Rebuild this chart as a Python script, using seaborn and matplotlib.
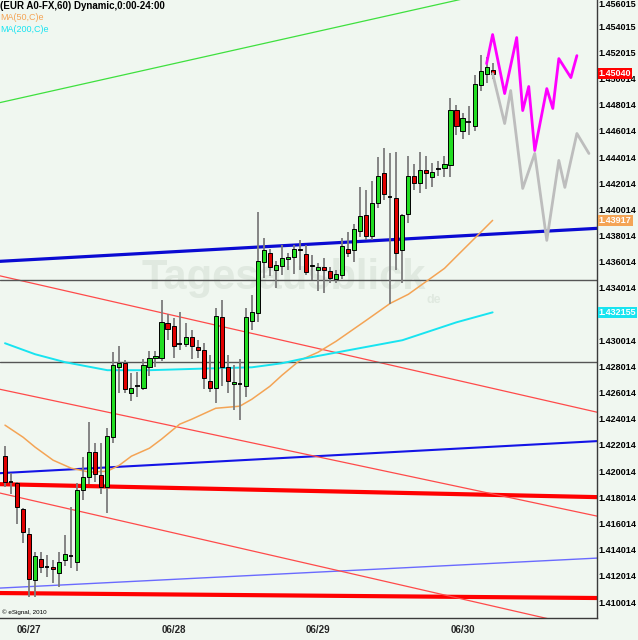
import numpy as np
import pandas as pd
import matplotlib
matplotlib.use("Agg")
import matplotlib.pyplot as plt
import matplotlib.transforms as mtransforms
import seaborn as sns

# EUR/USD hourly candles, bar 0 = Sunday evening 06/27
opens = [1.4212, 1.4192, 1.4191, 1.4171, 1.4152, 1.4117, 1.4133, 1.4127, 1.4127, 1.4122,
         1.4132, 1.4135, 1.4131, 1.4186, 1.4196, 1.4215, 1.4197, 1.4188, 1.4226, 1.4280,
         1.4283, 1.4260, 1.4265, 1.4264, 1.4280, 1.4287, 1.4287, 1.4313, 1.4311, 1.4297,
         1.4297, 1.4303, 1.4295, 1.4293, 1.4269, 1.4264, 1.4318, 1.4280, 1.4267, 1.4267,
         1.4265, 1.4315, 1.4321, 1.4360, 1.4367, 1.4354, 1.4357, 1.4362, 1.4364, 1.4370,
         1.4366, 1.4357, 1.4354, 1.4356, 1.4353, 1.4347, 1.4350, 1.4370, 1.4369, 1.4384,
         1.4396, 1.4380, 1.4405, 1.4428, 1.4410, 1.4409, 1.4369, 1.4397, 1.4426, 1.4420,
         1.4430, 1.4425, 1.4431, 1.4432, 1.4434, 1.4476, 1.4460, 1.4467, 1.4464, 1.4495,
         1.4504, 1.4507]
highs = [1.4219, 1.4199, 1.4192, 1.4172, 1.4157, 1.4138, 1.4138, 1.4136, 1.4132, 1.4138,
         1.4151, 1.4173, 1.4191, 1.4211, 1.4238, 1.4222, 1.4222, 1.4233, 1.4291, 1.4296,
         1.4285, 1.4275, 1.4276, 1.4286, 1.4292, 1.4292, 1.4331, 1.4320, 1.4317, 1.4322,
         1.4313, 1.4308, 1.4300, 1.4298, 1.4289, 1.4325, 1.4331, 1.4289, 1.4281, 1.4286,
         1.4325, 1.4335, 1.4398, 1.4378, 1.4370, 1.4361, 1.4373, 1.4367, 1.4373, 1.4377,
         1.4373, 1.4365, 1.4359, 1.4363, 1.4356, 1.4354, 1.4378, 1.4383, 1.4389, 1.4417,
         1.4415, 1.4422, 1.4440, 1.4447, 1.4443, 1.4444, 1.4397, 1.4441, 1.4435, 1.4444,
         1.4441, 1.4436, 1.4437, 1.4441, 1.4485, 1.4480, 1.4474, 1.4479, 1.4503, 1.4518,
         1.4517, 1.4512]
lows = [1.4188, 1.4183, 1.4160, 1.4145, 1.4104, 1.4104, 1.4122, 1.4119, 1.4115, 1.4112,
        1.4128, 1.4126, 1.4124, 1.4178, 1.4190, 1.4192, 1.4183, 1.4168, 1.4222, 1.4260,
        1.4260, 1.4254, 1.4257, 1.4262, 1.4273, 1.4280, 1.4284, 1.4300, 1.4287, 1.4293,
        1.4295, 1.4286, 1.4287, 1.4263, 1.4261, 1.4252, 1.4265, 1.4260, 1.4247, 1.4239,
        1.4257, 1.4308, 1.4314, 1.4348, 1.4349, 1.4340, 1.4350, 1.4354, 1.4351, 1.4354,
        1.4350, 1.4346, 1.4338, 1.4336, 1.4344, 1.4344, 1.4347, 1.4364, 1.4360, 1.4379,
        1.4377, 1.4377, 1.4401, 1.4407, 1.4328, 1.4354, 1.4344, 1.4390, 1.4415, 1.4413,
        1.4416, 1.4417, 1.4426, 1.4425, 1.4425, 1.4457, 1.4454, 1.4457, 1.4460, 1.4491,
        1.4497, 1.4500]
closes = [1.4192, 1.4192, 1.4173, 1.4154, 1.4118, 1.4135, 1.4127, 1.4127, 1.4125, 1.4131,
          1.4137, 1.4135, 1.4186, 1.4196, 1.4215, 1.4198, 1.4188, 1.4227, 1.4281, 1.4283,
          1.4263, 1.4264, 1.4265, 1.4281, 1.4287, 1.4288, 1.4314, 1.4309, 1.4296, 1.4297,
          1.4303, 1.4296, 1.4293, 1.4271, 1.4264, 1.4319, 1.4280, 1.4269, 1.4268, 1.4267,
          1.4318, 1.4322, 1.4361, 1.4369, 1.4356, 1.4358, 1.4363, 1.4364, 1.4370, 1.4369,
          1.4352, 1.4358, 1.4356, 1.4354, 1.4348, 1.4351, 1.4372, 1.4367, 1.4385, 1.4395,
          1.4380, 1.4405, 1.4426, 1.4412, 1.4410, 1.4367, 1.4396, 1.4426, 1.4420, 1.4430,
          1.4428, 1.4429, 1.4431, 1.4435, 1.4476, 1.4464, 1.4470, 1.4467, 1.4496, 1.4506,
          1.4509, 1.4504]

# moving averages (read at some bars)
ma50_x = [0, 3, 5, 8, 11, 14, 17, 19, 21, 24, 26, 29, 31, 35, 39, 41, 44, 46, 49, 52,
          55, 60, 64, 67, 70, 73, 75, 78, 81]
ma50_y = [1.42353, 1.42261, 1.42185, 1.42085, 1.42024, 1.41994, 1.42001, 1.42047, 1.42116,
          1.42177, 1.42246, 1.42360, 1.42398, 1.42482, 1.42498, 1.42551, 1.42650, 1.42734,
          1.42849, 1.42910, 1.42994, 1.43154, 1.43284, 1.43353, 1.43452, 1.43551, 1.43643,
          1.43780, 1.43918]
ma200_x = [0, 5, 10, 17, 24, 35, 41, 46, 49, 57, 66, 71, 75, 81]
ma200_y = [1.42979, 1.42895, 1.42834, 1.42773, 1.42773, 1.42788, 1.42795, 1.42826,
           1.42856, 1.42925, 1.43002, 1.43078, 1.43139, 1.43215]

# projected paths
proj_up_x = [80, 81, 83, 85, 86, 87, 88, 90, 91, 92, 94, 95]
proj_up_y = [1.45116, 1.45338, 1.44887, 1.45315, 1.44757, 1.44941, 1.44452, 1.44925,
             1.44773, 1.45154, 1.45009, 1.45177]
proj_dn_x = [81, 83, 84, 86, 88, 90, 92, 93, 95, 97]
proj_dn_y = [1.45040, 1.44658, 1.44910, 1.44162, 1.44429, 1.43765, 1.44376, 1.44170,
             1.44582, 1.44429]

# trend lines: price at left edge / right edge of the chart
edge_x = [-0.83, 98.34]
green_trend = [1.44818, 1.45840]
blue_thick = [1.43605, 1.43857]
blue_mid = [1.41986, 1.42231]
blue_thin = [1.41108, 1.41337]
red_thick_up = [1.41902, 1.41803]
red_thick_low = [1.41070, 1.41032]
red_thin_a = [1.43494, 1.42452]
red_thin_b = [1.42627, 1.41658]
red_thin_c = [1.41834, 1.40788]
flat_lines = [1.43460, 1.42834]

day_pos = [2, 26, 50, 74]
day_labels = ['06/27', '06/28', '06/29', '06/30']

# 1.432014 sits under the MA200 tag, so it is left out
ytick_vals = [1.410014, 1.412014, 1.414014, 1.416014, 1.418014, 1.420014, 1.422014,
              1.424014, 1.426014, 1.428014, 1.430014, 1.434014, 1.436014,
              1.438014, 1.440014, 1.442014, 1.444014, 1.446014, 1.448014, 1.450014,
              1.452015, 1.454015, 1.456015]
ytick_labels = ['1.410014', '1.412014', '1.414014', '1.416014', '1.418014', '1.420014',
                '1.422014', '1.424014', '1.426014', '1.428014', '1.430014',
                '1.434014', '1.436014', '1.438014', '1.440014', '1.442014', '1.444014',
                '1.446014', '1.448014', '1.450014', '1.452015', '1.454015', '1.456015']

last_tag = ('1.45040', 1.45040)
ma50_tag = ('1.43917', 1.43917)
ma200_tag = ('1.432155', 1.432155)

bg = '#f0f7f0'
sns.set_style("white")
plt.rcParams['font.family'] = ['Liberation Sans', 'DejaVu Sans']

fig = plt.figure(figsize=(6.38, 6.40), dpi=100, facecolor=bg)
ax = fig.add_axes([0, 22 / 640, 597 / 638, 618 / 640])
ax.set_facecolor(bg)

# watermark
ax.text(0.475, 0.55, 'Tagesausblick', transform=ax.transAxes, fontsize=30,
        fontweight='bold', color='#e0e9e0', ha='center', va='center', zorder=0)
ax.text(0.715, 0.515, 'de', transform=ax.transAxes, fontsize=9,
        fontweight='bold', color='#e0e9e0', ha='left', va='center', zorder=0)

# trend lines
ax.plot(edge_x, green_trend, color='#3ee03e', lw=0.9, zorder=2)
ax.plot(edge_x, blue_thick, color='#0a0ad2', lw=2.3, zorder=2)
ax.plot(edge_x, blue_mid, color='#1414e6', lw=1.5, zorder=2)
ax.plot(edge_x, blue_thin, color='#6a6aff', lw=1.0, zorder=2)
ax.plot(edge_x, red_thick_up, color='#ff0000', lw=3.0, zorder=2)
ax.plot(edge_x, red_thick_low, color='#ff0000', lw=3.0, zorder=2)
for p in [red_thin_a, red_thin_b, red_thin_c]:
    ax.plot(edge_x, p, color='#ff4a4a', lw=0.9, zorder=2)
for p in flat_lines:
    ax.axhline(p, color='#555555', lw=1.0, zorder=2)

# moving averages
sns.lineplot(x=ma50_x, y=ma50_y, ax=ax, color='#f4a455', lw=1.1, zorder=3, legend=False)
sns.lineplot(x=ma200_x, y=ma200_y, ax=ax, color='#18e4f0', lw=1.4, zorder=3, legend=False)

# candles
df = pd.DataFrame({'open': opens, 'high': highs, 'low': lows, 'close': closes})
df['bar'] = np.arange(len(df))
up = df[df.close > df.open]
dn = df[df.close < df.open]
flat = df[df.close == df.open]
ax.vlines(df.bar, df.low, df.high, color='#7c7c7c', lw=1.3, zorder=4)
ax.bar(up.bar, up.close - up.open, bottom=up.open, width=0.68, color='#22dd22',
       edgecolor='black', lw=0.7, zorder=5)
ax.bar(dn.bar, dn.open - dn.close, bottom=dn.close, width=0.68, color='#e00000',
       edgecolor='black', lw=0.7, zorder=5)
ax.hlines(flat.close, flat.bar - 0.35, flat.bar + 0.35, color='black', lw=1.3, zorder=5)

# projections
sns.lineplot(x=proj_dn_x, y=proj_dn_y, ax=ax, color='#bdbdbd', lw=2.0, zorder=6,
             legend=False, sort=False)
sns.lineplot(x=proj_up_x, y=proj_up_y, ax=ax, color='#ff00ff', lw=2.0, zorder=7,
             legend=False, sort=False)

ax.set_xlim(edge_x[0], edge_x[1])
ax.set_ylim(1.408793, 1.45602)

for s in ['left', 'top']:
    ax.spines[s].set_visible(False)
for s in ['right', 'bottom']:
    ax.spines[s].set_color('#3a3a3a')
    ax.spines[s].set_linewidth(1.0)

ax.yaxis.tick_right()
ax.set_yticks(ytick_vals)
ax.set_yticklabels(ytick_labels, fontsize=6.5, fontweight='bold')
ax.tick_params(axis='y', length=0, pad=1.0, labelcolor='black')
ylabs = ax.get_yticklabels()
ylabs[-1].set_verticalalignment('top')

ax.set_xticks(day_pos)
ax.set_xticklabels(day_labels, fontsize=7, fontweight='bold', ha='left')
ax.tick_params(axis='x', length=3, pad=2, color='#3a3a3a')

# price tags on the scale
trans = mtransforms.blended_transform_factory(ax.transAxes, ax.transData)
for (txt, val), fc in [(last_tag, '#ff0000'), (ma50_tag, '#f4a455'), (ma200_tag, '#18e4f0')]:
    ax.text(1.003, val, txt, transform=trans, color='white', fontsize=6.5,
            fontweight='bold', ha='left', va='center', clip_on=False, zorder=10,
            bbox=dict(boxstyle='square,pad=0.12', fc=fc, ec='none'))

# header
ax.text(0.0, 0.991, '(EUR A0-FX,60) Dynamic,0:00-24:00', transform=ax.transAxes,
        fontsize=7, fontweight='bold', color='black', ha='left', va='center', zorder=10)
ax.text(0.0, 0.972, 'MA(50,C)e', transform=ax.transAxes, fontsize=6.5,
        color='#f4a455', ha='left', va='center', zorder=10)
ax.text(0.0, 0.952, 'MA(200,C)e', transform=ax.transAxes, fontsize=6.5,
        color='#18e4f0', ha='left', va='center', zorder=10)
ax.text(0.004, 0.009, '\u00a9 eSignal, 2010', transform=ax.transAxes, fontsize=4.5,
        color='black', ha='left', va='center', zorder=10)

fig.savefig('out.png', dpi=100, facecolor=bg)
